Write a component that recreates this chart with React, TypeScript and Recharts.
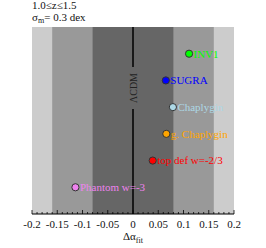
import { ScatterChart, Scatter, XAxis, YAxis, ReferenceArea, ReferenceLine } from 'recharts';

const models = ['INV1', 'SUGRA', 'Chaplygin', 'g. Chaplygin', 'top def w=-2/3', 'Phantom w=-3'];
const deltaAlpha = [0.111, 0.065, 0.079, 0.066, 0.039, -0.114];
const rows = [6, 5, 4, 3, 2, 1];
const colors = ['#00ff00', '#0000ff', '#add8e6', '#ffa500', '#ff0000', '#ee82ee'];

const majorTicks = [-0.2, -0.15, -0.1, -0.05, 0, 0.05, 0.1, 0.15, 0.2];
const majorLabels = ['-0.2', '-0.15', '-0.1', '-0.05', '0', '0.05', '0.1', '0.15', '0.2'];
const minorTicks = Array.from({ length: 41 }, (_, i) => Math.round((-0.2 + i * 0.01) * 100) / 100);

// sigma bands: 1, 2, 3 sigma widths
const bands = [
  { half: 0.2, fill: '#cccccc' },
  { half: 0.16, fill: '#999999' },
  { half: 0.08, fill: '#666666' },
];

const data = models.map((name, i) => ({ name, x: deltaAlpha[i], y: rows[i], color: colors[i] }));

const FONT = '"Liberation Serif", "DejaVu Serif", serif';

function Point(props: any) {
  const { cx, cy, payload } = props;
  return (
    <g>
      <circle cx={cx} cy={cy} r={3.6} fill={payload.color} stroke="#333" strokeWidth={1} />
      <text x={cx + 4.5} y={cy + 3.8} fontSize={11} fontFamily={FONT} fill={payload.color}>
        {payload.name}
      </text>
    </g>
  );
}

function Tick(props: any) {
  const { x, y, payload } = props;
  const idx = majorTicks.findIndex((t) => Math.abs(t - payload.value) < 1e-9);
  const major = idx >= 0;
  return (
    <g>
      <line x1={x} x2={x} y1={y} y2={y - (major ? 4 : 2)} stroke="#000" strokeWidth={0.8} />
      {major && (
        <text x={x} y={y + 14} textAnchor="middle" fontSize={11} fontFamily={FONT} fill="#111">
          {majorLabels[idx]}
        </text>
      )}
    </g>
  );
}

function LcdmLabel(props: any) {
  const { viewBox } = props;
  const cx = viewBox.x;
  const cy = 88;
  return (
    <g>
      <rect x={cx - 4} y={cy - 21} width={8} height={42} fill="#666666" />
      <text
        x={cx}
        y={cy}
        transform={`rotate(-90 ${cx} ${cy})`}
        textAnchor="middle"
        dominantBaseline="central"
        fontSize={10}
        fontFamily={FONT}
        fill="#222"
      >
        ΛCDM
      </text>
    </g>
  );
}

function XLabel(props: any) {
  const { viewBox } = props;
  const cx = viewBox.x + viewBox.width / 2;
  return (
    <text x={cx} y={240} textAnchor="middle" fontSize={11} fontFamily={FONT} fill="#111">
      Δα
      <tspan fontSize={8} dy={3}>fit</tspan>
    </text>
  );
}

export default function App() {
  return (
    <div style={{ position: 'absolute', left: 0, top: 0, width: 266, height: 248, background: '#fff' }}>
      <ScatterChart width={266} height={248} margin={{ top: 27, right: 32, bottom: 0, left: 32 }}>
        <XAxis
          type="number"
          dataKey="x"
          domain={[-0.2, 0.2]}
          ticks={minorTicks}
          interval={0}
          height={34}
          tickSize={0}
          tickMargin={0}
          tickLine={false}
          axisLine={{ stroke: '#000', strokeWidth: 1 }}
          tick={<Tick />}
          label={<XLabel />}
        />
        <YAxis type="number" dataKey="y" domain={[0, 7]} hide />
        {bands.map((b) => (
          <ReferenceArea key={b.half} x1={-b.half} x2={b.half} y1={0} y2={7} fill={b.fill} fillOpacity={1} stroke="none" />
        ))}
        <ReferenceLine x={0} stroke="#000" strokeWidth={1.5} label={<LcdmLabel />} />
        <Scatter data={data} shape={<Point />} isAnimationActive={false} />
        <text x={32} y={9} fontSize={11} fontFamily={FONT} fill="#111">1.0≤z≤1.5</text>
        <text x={32} y={21} fontSize={11} fontFamily={FONT} fill="#111">
          σ<tspan fontSize={8} dy={2}>m</tspan>
          <tspan dy={-2}>= 0.3 dex</tspan>
        </text>
      </ScatterChart>
    </div>
  );
}
